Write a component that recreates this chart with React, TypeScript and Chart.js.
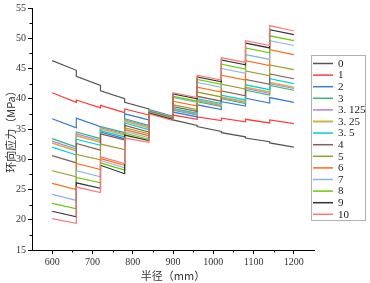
import React, { useEffect, useRef } from 'react';
import { Chart, registerables } from 'chart.js';

Chart.register(...registerables);

// Radius positions: each layer has a start and an end point (boundaries repeated => vertical jumps)
const radii = [600, 660, 660, 720, 720, 780, 780, 840, 840, 900, 900, 960, 960, 1020, 1020, 1080, 1080, 1140, 1140, 1200];
const xTickValues = [600, 700, 800, 900, 1000, 1100, 1200];
const yTickValues = [15, 20, 25, 30, 35, 40, 45, 50, 55];

const seriesLabels = ['0', '1', '2', '3', '3. 125', '3. 25', '3. 5', '4', '5', '6', '7', '8', '9', '10'];
const seriesColors = ['#555555', '#ff3b3b', '#3a7bd5', '#3cb371', '#b07ee8', '#d4b04a', '#00d0d8', '#8b5a5a', '#9c9c28', '#ff6a1a', '#8fb4e0', '#66cc00', '#333333', '#ff7575'];

const s0 = [46.3, 44.7, 43.7, 42.2, 41.3, 40.0, 39.4, 38.3, 38.0, 36.9, 36.5, 35.6, 35.4, 34.6, 34.4, 33.7, 33.5, 32.9, 32.7, 32.0];
const s1 = [41.0, 39.4, 39.8, 38.5, 38.9, 37.7, 38.3, 37.3, 37.6, 36.7, 37.3, 36.6, 37.0, 36.4, 36.8, 36.2, 36.6, 36.0, 36.5, 35.9];
const s2 = [36.7, 35.2, 36.8, 35.4, 34.5, 33.4, 37.5, 36.5, 38.2, 37.1, 37.8, 37.0, 39.0, 38.2, 39.5, 38.8, 40.1, 39.3, 40.2, 39.4];
const s3 = [33.4, 32.0, 34.5, 33.4, 35.4, 34.4, 36.7, 35.6, 38.1, 37.0, 38.1, 37.3, 39.5, 38.7, 40.0, 39.2, 41.4, 40.6, 42.2, 41.4];
const s3125 = [33.0, 31.7, 34.2, 33.1, 35.2, 34.2, 36.5, 35.4, 38.05, 36.95, 38.2, 37.4, 39.7, 38.9, 40.2, 39.4, 41.7, 40.9, 42.5, 41.7];
const s325 = [32.7, 31.4, 33.9, 32.8, 35.0, 34.0, 36.3, 35.2, 38.0, 36.9, 38.3, 37.5, 39.8, 39.0, 40.3, 39.5, 41.9, 41.1, 42.7, 41.9];
const s35 = [32.0, 30.7, 33.3, 32.3, 34.7, 33.7, 36.0, 34.9, 37.95, 36.85, 38.4, 37.6, 40.0, 39.2, 40.6, 39.8, 42.3, 41.5, 43.3, 42.5];
const s4 = [30.6, 29.4, 32.6, 31.5, 34.2, 33.2, 35.6, 34.5, 37.9, 36.8, 38.7, 37.9, 40.4, 39.6, 41.3, 40.5, 43.2, 42.4, 44.1, 43.3];
const s5 = [28.1, 27.1, 30.8, 29.9, 32.5, 31.6, 35.2, 34.2, 37.85, 36.75, 39.0, 38.2, 41.1, 40.3, 42.4, 41.6, 44.6, 43.8, 45.6, 44.8];
const s6 = [26.0, 25.0, 29.3, 28.3, 30.1, 29.0, 34.9, 33.9, 37.8, 36.7, 39.6, 38.8, 41.9, 41.1, 43.9, 43.1, 46.3, 45.5, 48.1, 47.3];
const s7 = [24.2, 23.2, 28.1, 27.1, 29.8, 28.6, 34.6, 33.6, 37.75, 36.65, 40.2, 39.4, 42.7, 41.9, 45.0, 44.2, 47.3, 46.5, 49.6, 48.8];
const s8 = [22.7, 21.8, 27.0, 26.1, 29.4, 28.2, 34.3, 33.3, 37.7, 36.6, 40.4, 39.6, 43.2, 42.4, 45.7, 44.9, 48.4, 47.6, 50.4, 49.6];
const s9 = [21.4, 20.5, 26.1, 25.2, 29.0, 27.6, 34.0, 33.1, 37.65, 36.55, 40.8, 40.0, 43.6, 42.8, 46.4, 45.6, 49.2, 48.4, 51.4, 50.6];
const s10 = [20.2, 19.4, 25.4, 24.5, 30.4, 29.3, 33.5, 32.8, 37.5, 36.4, 41.0, 40.2, 43.9, 43.1, 46.8, 46.0, 49.6, 48.8, 52.1, 51.2];

const allSeries = [s0, s1, s2, s3, s3125, s325, s35, s4, s5, s6, s7, s8, s9, s10];

const yTitle = '环向应力（MPa）';
const xTitle = '半径（mm）';

const serif = '"Liberation Serif", "DejaVu Serif", serif';
const cjk = '"Noto Sans CJK SC", "Liberation Serif", serif';

const minorAndLegend = {
  id: 'minorAndLegend',
  afterDraw(chart: any) {
    const ctx = chart.ctx;
    const xs = chart.scales.x;
    const ys = chart.scales.y;
    ctx.save();
    ctx.strokeStyle = '#000';
    ctx.lineWidth = 1;
    // minor ticks
    for (let v = 650; v < 1250; v += 100) {
      const px = Math.round(xs.getPixelForValue(v)) + 0.5;
      ctx.beginPath();
      ctx.moveTo(px, ys.bottom);
      ctx.lineTo(px, ys.bottom + 2.5);
      ctx.stroke();
    }
    for (let v = 17.5; v < 55; v += 5) {
      const py = Math.round(ys.getPixelForValue(v)) + 0.5;
      ctx.beginPath();
      ctx.moveTo(xs.left - 2.5, py);
      ctx.lineTo(xs.left, py);
      ctx.stroke();
    }
    // legend
    const bx = 311.5, by = 55.5, bw = 54, bh = 165;
    ctx.strokeStyle = '#b0b0b0';
    ctx.lineWidth = 1;
    ctx.strokeRect(bx, by, bw, bh);
    ctx.font = '11px ' + serif;
    ctx.textBaseline = 'middle';
    ctx.textAlign = 'left';
    chart.data.datasets.forEach((ds: any, i: number) => {
      const y = 63.5 + i * 11.6;
      ctx.strokeStyle = ds.borderColor;
      ctx.lineWidth = i === 5 ? 2 : 1.5;
      ctx.beginPath();
      ctx.moveTo(313, y);
      ctx.lineTo(333, y);
      ctx.stroke();
      ctx.fillStyle = '#222';
      ctx.fillText(ds.label, 338, y + 0.5);
    });
    ctx.restore();
  },
};

export default function App() {
  const ref = useRef<HTMLCanvasElement>(null);
  useEffect(() => {
    document.body.style.margin = '0';
    const datasets = allSeries.map((vals, i) => ({
      label: seriesLabels[i],
      data: vals.map((v, k) => ({ x: radii[k], y: v })),
      borderColor: seriesColors[i],
      backgroundColor: seriesColors[i],
      borderWidth: i === 5 ? 1.6 : 1.2,
      pointRadius: 0,
      fill: false,
      tension: 0,
      order: seriesLabels.length - i,
    }));
    const chart = new Chart(ref.current as HTMLCanvasElement, {
      type: 'line',
      data: { datasets },
      options: {
        animation: false,
        responsive: false,
        devicePixelRatio: 1,
        layout: { padding: { top: 7, right: 56, left: 0, bottom: 0 } },
        plugins: { legend: { display: false }, tooltip: { enabled: false } },
        scales: {
          x: {
            type: 'linear',
            min: 550,
            max: 1250,
            afterFit: (s: any) => { s.height = 33; },
            afterBuildTicks: (s: any) => { s.ticks = xTickValues.map((v) => ({ value: v })); },
            ticks: { color: '#333', font: { family: serif, size: 10 }, padding: 2, maxRotation: 0, autoSkip: false, callback: (v: any) => String(v) },
            grid: { drawOnChartArea: false, drawTicks: true, tickLength: 4, color: '#000' },
            border: { display: true, color: '#000', width: 1 },
            title: { display: true, text: xTitle, color: '#333', font: { family: cjk, size: 11 }, padding: { top: 0, bottom: 1 } },
          },
          y: {
            type: 'linear',
            min: 15,
            max: 55,
            afterFit: (s: any) => { s.width = 32; },
            afterBuildTicks: (s: any) => { s.ticks = yTickValues.map((v) => ({ value: v })); },
            ticks: { color: '#333', font: { family: serif, size: 10 }, padding: 2, autoSkip: false, callback: (v: any) => String(v) },
            grid: { drawOnChartArea: false, drawTicks: true, tickLength: 4, color: '#000' },
            border: { display: true, color: '#000', width: 1 },
            title: { display: true, text: yTitle, color: '#333', font: { family: cjk, size: 11 }, padding: { top: 4, bottom: 0 } },
          },
        },
      },
      plugins: [minorAndLegend],
    });
    return () => chart.destroy();
  }, []);
  return (
    <div style={{ width: 370, height: 283, background: '#fff' }}>
      <canvas ref={ref} width={370} height={283} />
    </div>
  );
}
